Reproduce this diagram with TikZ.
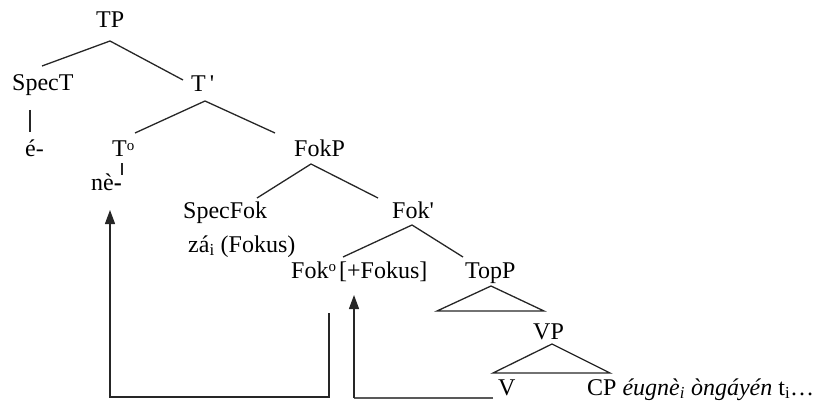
\documentclass[tikz,border=0pt]{standalone}
\usepackage{fontspec}
\setmainfont{Liberation Serif}
\usetikzlibrary{arrows.meta,calc}
\newcommand{\supo}{\raisebox{0.55ex}{\fontsize{15}{15}\selectfont o}}
\begin{document}
\begin{tikzpicture}[x=1pt,y=-1pt,
  lbl/.style={anchor=base west,inner sep=0pt,font=\fontsize{24}{28}\selectfont},
  br/.style={line width=1.3pt,draw=black!85},
  mv/.style={line width=1.3pt,draw=black!85,-{Triangle[length=14pt,width=10pt]}},
  mvg/.style={line width=1.3pt,draw=black!65}]
\useasboundingbox (0,0) rectangle (824,401);
% labels
\node[lbl] (TP) at (96,28) {TP};
\node[lbl] (SpecT) at (12,91) {SpecT};
\node[lbl] (Tbar) at (191,92) {T\,\textquotesingle};
\node[lbl] (e) at (25,157) {é-};
\node[lbl] (T0) at (112,157) {T\supo};
\node[lbl] (ne) at (91,190) {nè\textbf{-}};
\node[lbl] (FokP) at (294,157) {FokP};
\node[lbl] (SpecFok) at (183,218) {SpecFok};
\node[lbl] (Fokbar) at (392,218) {Fok\textquotesingle};
\node[lbl] (za) at (188,252) {zá\textsubscript{i} (Fokus)};
\node[lbl] (FokH) at (291,278) {Fok\supo};
\node[lbl] (FokF) at (339,278) {[+Fokus]};
\node[lbl] (TopP) at (465,278) {TopP};
\node[lbl] (VP) at (533,339) {VP};
\node[lbl] (V) at (498,395) {V};
\node[lbl] (CP) at (587,395) {CP \textit{éugnè\textsubscript{i} òngáyén} t\textsubscript{i}…};
% branches
\draw[br] ($(SpecT.base west)+(30,-25)$) -- ($(TP.base west)+(14,13)$) -- ($(Tbar.base west)+(-8,-12)$);
\draw[br] ($(SpecT.base west)+(18,19)$) -- ($(e.base west)+(5,-25)$);
\draw[br] ($(T0.base west)+(23,-24)$) -- ($(Tbar.base west)+(14,9)$) -- ($(FokP.base west)+(-19,-24)$);
\draw[br] ($(T0.base west)+(10,6)$) -- ($(ne.base west)+(31,-15)$);
\draw[br] ($(SpecFok.base west)+(74,-20)$) -- ($(FokP.base west)+(17,7)$) -- ($(Fokbar.base west)+(-14,-20)$);
\draw[br] ($(FokF.base west)+(4,-21)$) -- ($(Fokbar.base west)+(20,7)$) -- ($(TopP.base west)+(-2,-21)$);
\draw[br] ($(TopP.base west)+(26,8)$) -- ($(TopP.base west)+(79,33)$) -- ($(TopP.base west)+(-28,33)$) -- cycle;
\draw[br] ($(VP.base west)+(19,5)$) -- ($(VP.base west)+(77,34)$) -- ($(VP.base west)+(-40,34)$) -- cycle;
% movement arrows
\coordinate (a1) at ($(FokH.base west)+(38,35)$);
\coordinate (a1t) at ($(ne.base west)+(19,20)$);
\draw[mv] (a1) |- ($(a1t)+(0,187)$) -- (a1t);
\coordinate (a2) at ($(V.base west)+(-5,3)$);
\coordinate (a2t) at ($(FokF.base west)+(15,17)$);
\draw[mvg] (a2) -- (a2 -| a2t);
\draw[mv] (a2 -| a2t) -- (a2t);
\end{tikzpicture}
\end{document}
